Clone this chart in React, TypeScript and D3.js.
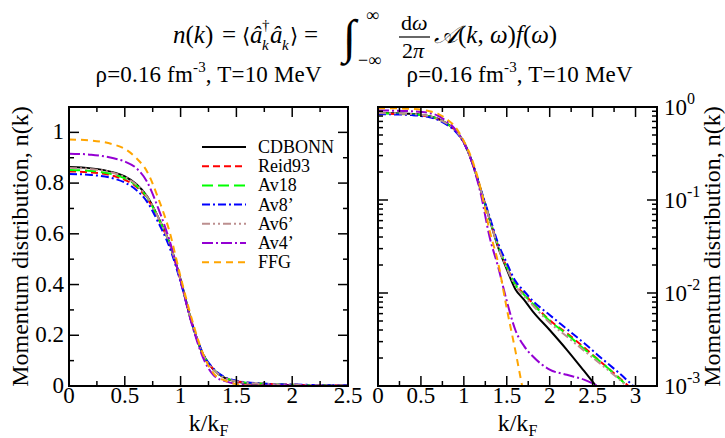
import React from "react";
import * as d3 from "d3";

const kGrid = [0, 0.2, 0.4, 0.5, 0.6, 0.7, 0.8, 0.9, 1.0, 1.1, 1.2, 1.3, 1.4, 1.5, 1.6, 1.7, 1.8, 2.0, 2.2, 2.4, 2.6, 2.8, 3.0];

const nCDBONN = [0.863, 0.858, 0.842, 0.826, 0.797, 0.748, 0.665, 0.565, 0.42, 0.25, 0.125, 0.062, 0.031, 0.018, 0.011, 0.0085, 0.0064, 0.004, 0.00245, 0.00145, 0.00085, 0.0005, 0.0003];
const nReid93 = [0.846, 0.842, 0.828, 0.813, 0.787, 0.74, 0.66, 0.56, 0.415, 0.25, 0.126, 0.063, 0.032, 0.019, 0.0125, 0.0098, 0.0078, 0.0051, 0.0037, 0.0026, 0.0018, 0.00125, 0.00085];
const nAv18 = [0.852, 0.848, 0.834, 0.819, 0.792, 0.744, 0.662, 0.562, 0.417, 0.25, 0.126, 0.063, 0.032, 0.019, 0.0123, 0.0096, 0.0077, 0.005, 0.0036, 0.0025, 0.0018, 0.00123, 0.00083];
const nAv8p = [0.836, 0.832, 0.818, 0.802, 0.774, 0.726, 0.645, 0.548, 0.41, 0.25, 0.128, 0.066, 0.034, 0.021, 0.0135, 0.0105, 0.0083, 0.0058, 0.0041, 0.0029, 0.002, 0.0014, 0.00095];
const nAv6p = [0.86, 0.855, 0.84, 0.824, 0.795, 0.746, 0.664, 0.563, 0.418, 0.25, 0.125, 0.062, 0.031, 0.0185, 0.012, 0.0093, 0.0074, 0.0048, 0.0034, 0.0024, 0.0017, 0.0012, 0.0008];
const nAv4p = [0.916, 0.912, 0.898, 0.885, 0.86, 0.805, 0.7, 0.575, 0.415, 0.245, 0.113, 0.04, 0.019, 0.0082, 0.004, 0.0027, 0.0021, 0.0015, 0.00132, 0.00117, 0.00096, 0.0008, 0.00065];
const nFFG = [0.972, 0.968, 0.952, 0.935, 0.9, 0.845, 0.74, 0.61, 0.43, 0.265, 0.128, 0.047, 0.021, 0.0068, 0.0024, 0.0008, 0.0003, 0.0001, 0.0001, 0.0001, 0.0001, 0.0001, 0.0001];

const seriesNames = ["CDBONN", "Reid93", "Av18", "Av8\u2019", "Av6\u2019", "Av4\u2019", "FFG"];
const seriesValues = [nCDBONN, nReid93, nAv18, nAv8p, nAv6p, nAv4p, nFFG];
const seriesColors = ["#000000", "#ff0000", "#00ff00", "#0000ff", "#bc8f8f", "#9400d3", "#ffa500"];
const seriesDash = ["none", "7,4", "11,5", "8,3,2,3", "8,3,2,3,2,3", "11,3,2,3", "7,5"];

const leftXTicks = [0, 0.5, 1, 1.5, 2, 2.5];
const leftXTickLabels = ["0", "0.5", "1", "1.5", "2", "2.5"];
const leftYTicks = [0, 0.2, 0.4, 0.6, 0.8, 1];
const leftYTickLabels = ["0", "0.2", "0.4", "0.6", "0.8", "1"];
const rightXTicks = [0, 0.5, 1, 1.5, 2, 2.5, 3];
const rightXTickLabels = ["0", "0.5", "1", "1.5", "2", "2.5", "3"];
const rightYTicks = [1, 0.1, 0.01, 0.001];
const rightYTickExps = ["0", "-1", "-2", "-3"];

const SERIF = "Liberation Serif";
const TS: React.CSSProperties = { fontFamily: SERIF };
const TOP = 107, BOTTOM = 386;
const LX0 = 69, LX1 = 348, RX0 = 378, RX1 = 657;
const MAJ = 10, MIN = 5;

export default function App() {
  const xL = d3.scaleLinear().domain([0, 2.5]).range([LX0, LX1]);
  const yL = d3.scaleLinear().domain([0, 1.1]).range([BOTTOM, TOP]);
  const xR = d3.scaleLinear().domain([0, 3.25]).range([RX0, RX1]);
  const yR = d3.scaleLog().domain([0.001, 1]).range([BOTTOM, TOP]);

  const lineL = d3.line<number>().x((_, i) => xL(kGrid[i])).y((d) => yL(d)).curve(d3.curveMonotoneX);
  const lineR = d3.line<number>().x((_, i) => xR(kGrid[i])).y((d) => yR(d)).curve(d3.curveMonotoneX);

  const leftXMinor = d3.range(0, 2.5001, 0.25);
  const leftYMinor = d3.range(0, 1.1001, 0.1);
  const rightXMinor = d3.range(0, 3.2501, 0.25);
  const rightYMinor: number[] = [];
  [0.001, 0.01, 0.1].forEach((dec) => {
    for (let m = 2; m <= 9; m++) rightYMinor.push(dec * m);
  });

  const tick = (x1: number, y1: number, x2: number, y2: number, key: string) => (
    <line key={key} x1={x1} y1={y1} x2={x2} y2={y2} stroke="#000" strokeWidth={1.5} />
  );

  const isMajor = (v: number, step: number) => Math.abs(v / step - Math.round(v / step)) < 1e-6;

  const title = (cx: number) => (
    <text x={cx - 113} y={82} fontSize={23} style={TS} textLength={226} lengthAdjust="spacing">
      ρ=0.16 fm<tspan fontSize={15} dy={-10}>-3</tspan><tspan dy={10}>, T=10 MeV</tspan>
    </text>
  );

  return (
    <svg width={725} height={438} style={{ position: "absolute", left: 0, top: 0, background: "#fff", fontFamily: SERIF }}>
      <defs>
        <clipPath id="clipL"><rect x={LX0} y={TOP} width={LX1 - LX0} height={BOTTOM - TOP} /></clipPath>
        <clipPath id="clipR"><rect x={RX0} y={TOP} width={RX1 - RX0} height={BOTTOM - TOP} /></clipPath>
      </defs>
      <rect x={0} y={0} width={725} height={438} fill="#fff" />

      {/* Formula */}
      <g fontSize={25} fill="#000" style={TS}>
        <text x={173} y={43} style={TS}><tspan fontStyle="italic">n</tspan>(<tspan fontStyle="italic">k</tspan>)</text>
        <text x={222} y={43} style={TS}>=</text>
        <text x={242} y={43} style={{ fontFamily: "DejaVu Serif" }} fontSize={21}>⟨</text>
        <text x={250} y={43} style={TS} fontStyle="italic">â</text>
        <text x={262} y={30} style={TS} fontSize={15}>†</text>
        <text x={262} y={50} style={TS} fontSize={15} fontStyle="italic">k</text>
        <text x={270} y={43} style={TS} fontStyle="italic">â</text>
        <text x={282} y={50} style={TS} fontSize={15} fontStyle="italic">k</text>
        <text x={290} y={43} style={{ fontFamily: "DejaVu Serif" }} fontSize={21}>⟩</text>
        <text x={304} y={43} style={TS}>=</text>
        <text x={343} y={53} style={TS} fontSize={48} fontStyle="italic">∫</text>
        <text x={366} y={21} style={TS} fontSize={18}>∞</text>
        <text x={358} y={66} style={TS} fontSize={18}>−∞</text>
        <text x={401} y={30} style={TS} fontSize={22}>d<tspan fontStyle="italic">ω</tspan></text>
        <line x1={399} x2={430} y1={37} y2={37} stroke="#000" strokeWidth={1.2} />
        <text x={402} y={58} style={TS} fontSize={22}>2<tspan fontStyle="italic">π</tspan></text>
        <text x={434} y={43} style={TS}><tspan style={{ fontFamily: "DejaVu Serif" }} fontStyle="italic">𝒜</tspan>(<tspan fontStyle="italic">k</tspan>, <tspan fontStyle="italic">ω</tspan>)<tspan fontStyle="italic">f</tspan>(<tspan fontStyle="italic">ω</tspan>)</text>
      </g>

      {/* Panel titles */}
      {title((LX0 + LX1) / 2)}
      {title((RX0 + RX1) / 2 + 2)}

      {/* Left panel curves */}
      <g clipPath="url(#clipL)">
        {seriesValues.map((vals, i) => (
          <path key={"l" + i} d={lineL(vals) || ""} fill="none" stroke={seriesColors[i]} strokeWidth={2} strokeDasharray={seriesDash[i]} />
        ))}
      </g>
      {/* Right panel curves */}
      <g clipPath="url(#clipR)">
        {seriesValues.map((vals, i) => (
          <path key={"r" + i} d={lineR(vals) || ""} fill="none" stroke={seriesColors[i]} strokeWidth={2} strokeDasharray={seriesDash[i]} />
        ))}
      </g>

      {/* Left panel frame and ticks */}
      <rect x={LX0} y={TOP} width={LX1 - LX0} height={BOTTOM - TOP} fill="none" stroke="#000" strokeWidth={2} />
      {leftXMinor.map((v, i) => {
        const len = isMajor(v, 0.5) ? MAJ : MIN;
        return (
          <g key={"lx" + i}>
            {tick(xL(v), BOTTOM, xL(v), BOTTOM - len, "a")}
            {tick(xL(v), TOP, xL(v), TOP + len, "b")}
          </g>
        );
      })}
      {leftYMinor.map((v, i) => {
        const len = isMajor(v, 0.2) ? MAJ : MIN;
        return (
          <g key={"ly" + i}>
            {tick(LX0, yL(v), LX0 + len, yL(v), "a")}
            {tick(LX1, yL(v), LX1 - len, yL(v), "b")}
          </g>
        );
      })}
      {leftXTicks.map((v, i) => (
        <text key={"lxt" + i} x={xL(v)} y={403} fontSize={23} style={TS} textAnchor="middle">{leftXTickLabels[i]}</text>
      ))}
      {leftYTicks.map((v, i) => (
        <text key={"lyt" + i} x={64} y={yL(v) + 7} fontSize={23} style={TS} textAnchor="end">{leftYTickLabels[i]}</text>
      ))}

      {/* Right panel frame and ticks */}
      <rect x={RX0} y={TOP} width={RX1 - RX0} height={BOTTOM - TOP} fill="none" stroke="#000" strokeWidth={2} />
      {rightXMinor.map((v, i) => {
        const len = isMajor(v, 0.5) ? MAJ : MIN;
        return (
          <g key={"rx" + i}>
            {tick(xR(v), BOTTOM, xR(v), BOTTOM - len, "a")}
            {tick(xR(v), TOP, xR(v), TOP + len, "b")}
          </g>
        );
      })}
      {rightYTicks.map((v, i) => (
        <g key={"ry" + i}>
          {tick(RX0, yR(v), RX0 + MAJ, yR(v), "a")}
          {tick(RX1, yR(v), RX1 - MAJ, yR(v), "b")}
        </g>
      ))}
      {rightYMinor.map((v, i) => (
        <g key={"rym" + i}>
          {tick(RX0, yR(v), RX0 + MIN, yR(v), "a")}
          {tick(RX1, yR(v), RX1 - MIN, yR(v), "b")}
        </g>
      ))}
      {rightXTicks.map((v, i) => (
        <text key={"rxt" + i} x={xR(v)} y={403} fontSize={23} style={TS} textAnchor="middle">{rightXTickLabels[i]}</text>
      ))}
      {rightYTicks.map((v, i) => (
        <text key={"ryt" + i} x={664} y={yR(v) + 8} fontSize={23} style={TS}>10<tspan fontSize={16} dy={-11}>{rightYTickExps[i]}</tspan></text>
      ))}

      {/* Axis labels */}
      <text x={xL(1.25)} y={431} fontSize={24} style={TS} textAnchor="middle">k/k<tspan fontSize={16} dy={5}>F</tspan></text>
      <text x={(RX0 + RX1) / 2} y={431} fontSize={24} style={TS} textAnchor="middle">k/k<tspan fontSize={16} dy={5}>F</tspan></text>
      <text transform={`translate(28,${(TOP + BOTTOM) / 2}) rotate(-90)`} fontSize={24} style={TS} textAnchor="middle">Momentum distribution, n(k)</text>
      <text transform={`translate(720,${(TOP + BOTTOM) / 2}) rotate(-90)`} fontSize={24} style={TS} textAnchor="middle">Momentum distribution, n(k)</text>

      {/* Legend */}
      {seriesNames.map((name, i) => {
        const y = 147 + i * 19.2;
        return (
          <g key={"lg" + i}>
            <line x1={202} x2={246} y1={y} y2={y} stroke={seriesColors[i]} strokeWidth={2} strokeDasharray={seriesDash[i]} />
            <text x={258} y={y + 6} fontSize={18} style={TS}>{name}</text>
          </g>
        );
      })}
    </svg>
  );
}
